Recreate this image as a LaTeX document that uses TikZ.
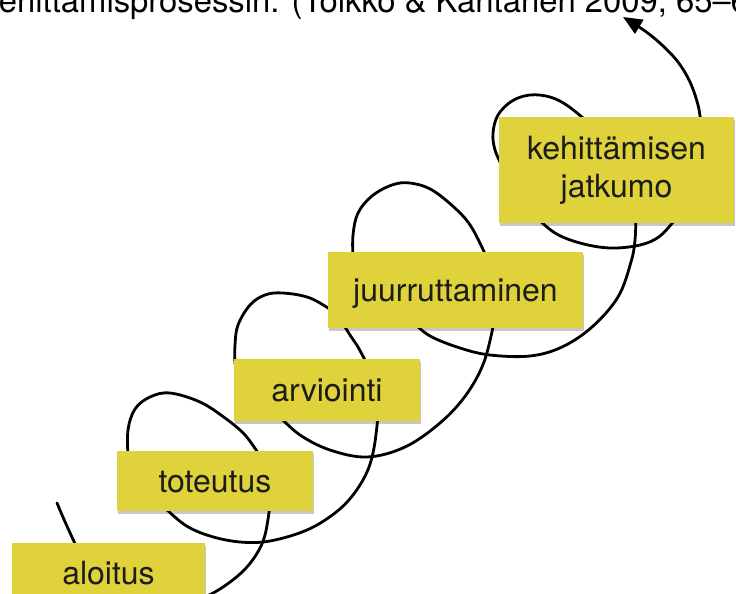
\documentclass[tikz,border=0pt]{standalone}
\usepackage{fontspec}
\setmainfont{TeX Gyre Heros}
\usetikzlibrary{arrows.meta,shadows}
\definecolor{stickyyellow}{RGB}{223,210,58}
\definecolor{inkgray}{RGB}{28,28,28}

\begin{document}
\begin{tikzpicture}[x=1pt,y=-1pt,
  coil/.style={line width=2.8pt, black, line cap=round},
  stagebox/.style={fill=stickyyellow, inner sep=0pt, text=inkgray,
    font=\fontsize{32}{38}\selectfont,
    drop shadow={shadow xshift=1pt, shadow yshift=-2.5pt, opacity=0.22, fill=black}},
  oneline/.style={text height=22pt, text depth=0pt}
]
\useasboundingbox (0,0) rectangle (736,594);
\clip (0,0) rectangle (736,594);

% caption line, partly outside the frame
\node[anchor=base west, inner sep=0pt, font=\fontsize{32.8}{38}\selectfont]
  (caption) at (-17,13) {kehittämisprosessin. (Toikko \& Kantanen 2009, 65–66)};

% the coil: only the parts in front of the boxes are visible,
% the hidden stretches run behind the stage boxes
\coordinate (coilstart) at (57,503);
\draw[coil] plot[smooth, tension=0.6] coordinates {(coilstart) (66,524) (78,550)};
\draw[coil] plot[smooth, tension=0.6] coordinates {(188,604) (215,592) (240,574) (256,555) (265,535) (270,505)};
\draw[coil] plot[smooth, tension=0.6] coordinates {(128,456) (128,430) (135,409) (150,397) (170,393) (200,402) (225,418) (245,435) (260,456)};
\draw[coil] plot[smooth, tension=0.6] coordinates {(163,506) (185,525) (210,536) (240,542) (270,541) (307,530) (335,513) (353,495) (367,472) (374,448) (378,416)};
\draw[coil] plot[smooth, tension=0.6] coordinates {(235,364) (235,345) (238,325) (250,305) (265,295) (283,293) (310,298) (334,312)};
\draw[coil] plot[smooth, tension=0.6] coordinates {(342,322) (350,335) (358,347) (367,364)};
\draw[coil] plot[smooth, tension=0.6] coordinates {(279,416) (300,435) (330,450) (367,457) (405,447) (440,423) (466,395) (484,362) (494,322)};
\draw[coil] plot[smooth, tension=0.6] coordinates {(353,258) (353,235) (358,213) (372,196) (392,185) (410,183) (432,190) (457,210) (472,228) (487,258)};
\draw[coil] plot[smooth, tension=0.6] coordinates {(413,322) (430,336) (460,348) (490,355) (530,356) (562,347) (592,327) (618,297) (631,262) (635,240) (636,215)};
\draw[coil] plot[smooth, tension=0.6] coordinates {(503,168) (495,150) (493,133) (498,115) (512,101) (530,95) (550,97) (568,106) (590,124)};
\draw[coil] plot[smooth, tension=0.6] coordinates {(535,216) (555,233) (580,243) (610,248) (640,245) (660,236) (678,216)};
\coordinate (coilend) at (623,17);
\draw[coil, -{Triangle[length=19pt, width=16pt]}]
  plot[smooth, tension=0.6] coordinates {(701,124) (698,105) (690,82) (678,62) (662,45) (645,31) (coilend)};

% stage boxes
\node[stagebox, oneline, minimum width=193pt, minimum height=60pt] (aloitus) at (108.5,573) {aloitus};
\node[stagebox, oneline, minimum width=196pt, minimum height=60pt] (toteutus) at (215,481) {toteutus};
\node[stagebox, oneline, minimum width=186pt, minimum height=62pt] (arviointi) at (327,390) {arviointi};
\node[stagebox, oneline, minimum width=255pt, minimum height=76pt] (juurruttaminen) at (455.5,290) {juurruttaminen};
\node[stagebox, align=center, minimum width=235pt, minimum height=106pt] (jatkumo) at (616.5,170) {kehittämisen\\jatkumo};
\end{tikzpicture}
\end{document}
